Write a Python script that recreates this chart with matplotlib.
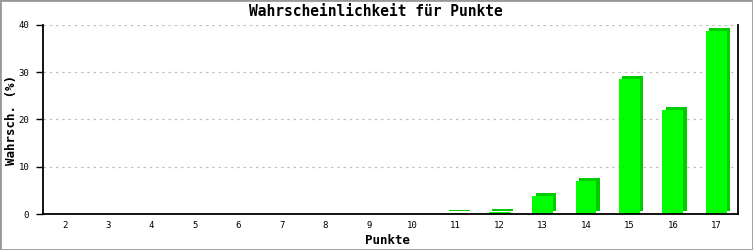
import matplotlib
matplotlib.use("Agg")
import matplotlib.pyplot as plt
import matplotlib.transforms as mtransforms
from matplotlib.patches import Rectangle

punkte = [2, 3, 4, 5, 6, 7, 8, 9, 10, 11, 12, 13, 14, 15, 16, 17]
wahrsch = [0, 0, 0, 0, 0, 0, 0, 0, 0, 0.3, 0.5, 3.9, 6.9, 28.5, 22.1, 38.7]
yticks = [0, 10, 20, 30, 40]

plt.rcParams['font.family'] = ['DejaVu Sans Mono']

fig = plt.figure(figsize=(7.53, 2.5), dpi=100)
ax = fig.add_axes([43/753, 36/250, 695/753, 189/250])

x = list(range(len(punkte)))
shadow_tr = ax.transData + mtransforms.ScaledTranslation(3.5/100, 3/100, fig.dpi_scale_trans)
sh = ax.bar(x, wahrsch, width=0.48, color='#00cc00', linewidth=0, zorder=2)
for r, v in zip(sh, wahrsch):
    if v > 0:
        r.set_transform(shadow_tr)
    else:
        r.set_visible(False)
bars = ax.bar(x, wahrsch, width=0.48, color='#00ff00', linewidth=0, zorder=3)
for r, v in zip(bars, wahrsch):
    if v == 0:
        r.set_visible(False)

ax.set_xlim(-0.5, len(punkte) - 0.5)
ax.set_ylim(0, 40)
ax.set_xticks(x)
ax.set_xticklabels([str(p) for p in punkte], fontsize=6.5)
ax.set_yticks(yticks)
ax.set_yticklabels([str(t) for t in yticks], fontsize=6.5)
ax.tick_params(axis='x', length=0, pad=5)
ax.tick_params(axis='y', length=5, width=1, pad=5)
ax.yaxis.grid(True, linestyle=(0, (2, 3)), color='#c0c0c0', linewidth=0.9, zorder=0)
ax.set_axisbelow(True)
for s in ['left', 'bottom', 'right']:
    ax.spines[s].set_linewidth(1.3)
    ax.spines[s].set_color('black')
    ax.spines[s].set_zorder(4)
ax.spines['top'].set_visible(False)

fig.text(376/753, 1 - 12/250, 'Wahrscheinlichkeit für Punkte', ha='center', va='center',
         fontsize=10.5, fontweight='bold')
fig.text(12/753, 1 - 120/250, 'Wahrsch. (%)', ha='center', va='center', rotation=90,
         fontsize=9, fontweight='bold')
fig.text(388/753, 1 - 240/250, 'Punkte', ha='center', va='center',
         fontsize=9, fontweight='bold')

fig.patches.append(Rectangle((0, 0), 1, 1, transform=fig.transFigure, fill=False,
                             edgecolor='#999999', linewidth=2))

fig.savefig('out.png', dpi=100)
